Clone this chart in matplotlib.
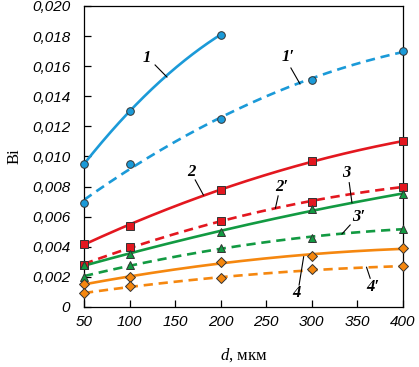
import numpy as np
import matplotlib.pyplot as plt
import matplotlib as mp

mp.rcParams['font.size'] = 11
mp.rcParams['mathtext.fontset'] = 'custom'
mp.rcParams['mathtext.it'] = 'Liberation Serif:italic'
mp.rcParams['mathtext.rm'] = 'Liberation Serif'

d = [50, 100, 200, 300, 400]
d1 = [50, 100, 200]

bi_1 = [0.0095, 0.0130, 0.0181]
bi_1p = [0.0069, 0.0095, 0.0125, 0.0151, 0.0170]
bi_2 = [0.0042, 0.0054, 0.0078, 0.0097, 0.0110]
bi_2p = [0.0028, 0.0040, 0.0057, 0.0070, 0.0080]
bi_3 = [0.0028, 0.0035, 0.0050, 0.0065, 0.0075]
bi_3p = [0.0020, 0.0028, 0.0039, 0.0046, 0.0052]
bi_4 = [0.0015, 0.0020, 0.0030, 0.0034, 0.0039]
bi_4p = [0.0009, 0.0014, 0.0019, 0.0025, 0.0027]

c_blue = '#1b9ad8'
c_red = '#e3171f'
c_green = '#129a42'
c_orange = '#f5870f'

series = [
    (d1, bi_1, c_blue, '-', 'o'),
    (d, bi_1p, c_blue, '--', 'o'),
    (d, bi_2, c_red, '-', 's'),
    (d, bi_2p, c_red, '--', 's'),
    (d, bi_3, c_green, '-', '^'),
    (d, bi_3p, c_green, '--', '^'),
    (d, bi_4, c_orange, '-', 'D'),
    (d, bi_4p, c_orange, '--', 'D'),
]

# curve labels: text position, leader line start, leader line end
labels = [
    ('1', (119, 0.01655), (128, 0.01608), (141, 0.01528)),
    ("1\u2032", (274, 0.01661), (277, 0.01588), (287, 0.01482)),
    ('2', (168, 0.00899), (172, 0.00844), (181, 0.00744)),
    ("2\u2032", (267, 0.00799), (263, 0.00738), (260, 0.00656)),
    ('3', (338, 0.00888), (341, 0.00826), (344, 0.00693)),
    ("3\u2032", (351, 0.0060), (342, 0.00545), (333, 0.00485)),
    ('4', (283, 0.00095), (286, 0.00146), (291, 0.00334)),
    ("4\u2032", (367, 0.00135), (364, 0.00191), (360, 0.00264)),
]

fig = plt.figure(figsize=(4.19, 3.67), dpi=100)
ax = fig.add_axes([0.2005, 0.1635, 0.7613, 0.8202])

for x, y, col, ls, mk in series:
    xs = np.linspace(min(x), max(x), 200)
    p = np.polyfit(x, y, 2)
    ax.plot(xs, np.polyval(p, xs), color=col, ls=ls, lw=1.9,
            dashes=(3.5, 2.2) if ls == '--' else (None, None), zorder=2)
    ms = 6.3 if mk == '^' else 5.5
    ax.plot(x, y, ls='none', marker=mk, ms=ms, mfc=col, mec='#333333',
            mew=0.7, zorder=3, clip_on=False)

for txt, pos, l0, l1 in labels:
    ax.text(pos[0], pos[1], txt, ha='center', va='center', fontsize=12,
            family='Liberation Serif', weight='bold', style='italic')
    ax.plot([l0[0], l1[0]], [l0[1], l1[1]], color='black', lw=0.8)

ax.set_xlim(50, 400)
ax.set_ylim(0, 0.020)
ax.set_xticks([50, 100, 150, 200, 250, 300, 350, 400])
ax.set_yticks(np.arange(0, 0.0201, 0.002))
ax.set_xticklabels(['50', '100', '150', '200', '250', '300', '350', '400'],
                   family='Liberation Sans', style='italic', fontsize=11)
ylabels = ['0'] + ['{:.3f}'.format(v).replace('.', ',') for v in np.arange(0.002, 0.0201, 0.002)]
ax.set_yticklabels(ylabels, family='Liberation Sans', style='italic', fontsize=11)
ax.tick_params(direction='in', length=5, width=0.9)
ax.tick_params(axis='y', pad=10)
ax.tick_params(axis='x', pad=6)
for s in ax.spines.values():
    s.set_linewidth(0.9)

ax.set_xlabel(r'$d$, мкм', family='Liberation Serif', fontsize=12,
              labelpad=12)
ax.set_ylabel('Bi', family='Liberation Serif', fontsize=12, labelpad=7)

fig.savefig('out.png', dpi=100)
